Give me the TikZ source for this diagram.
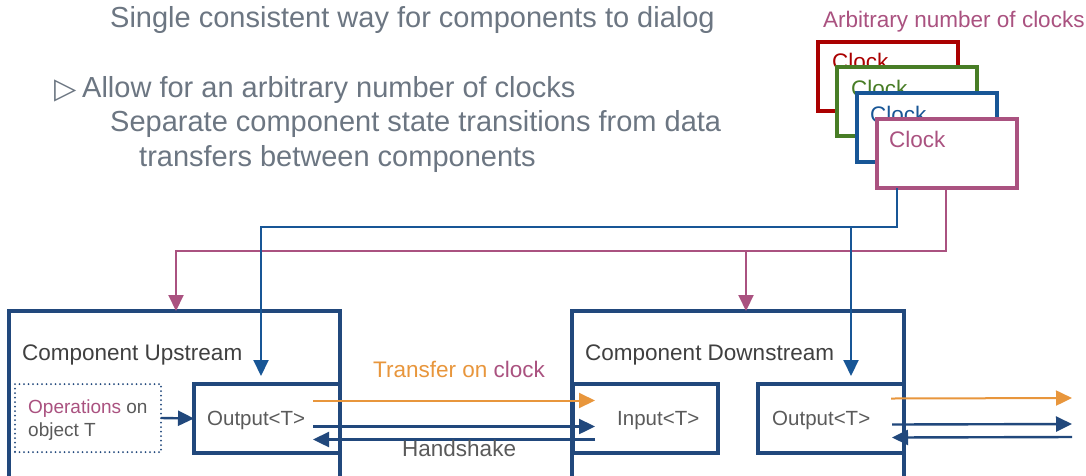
\documentclass[tikz,border=0pt]{standalone}
\usepackage{fontspec}
\setmainfont{Liberation Sans}
\newfontfamily\symbfont{DejaVu Sans}
\usetikzlibrary{arrows.meta,calc}

\definecolor{slate}{RGB}{108,118,130}
\definecolor{boxblue}{RGB}{33,72,124}
\definecolor{wireblue}{RGB}{24,86,150}
\definecolor{clkpink}{RGB}{170,82,128}
\definecolor{xferorange}{RGB}{232,150,60}
\definecolor{clkred}{RGB}{170,0,0}
\definecolor{clkgreen}{RGB}{72,125,38}
\definecolor{txtgray}{RGB}{64,64,64}
\definecolor{lblgray}{RGB}{90,90,90}

\tikzset{
  txt/.style={anchor=base west, inner sep=0pt},
  bigfont/.style={font=\fontsize{29}{34}\selectfont},
  midfont/.style={font=\fontsize{22.5}{27}\selectfont},
  smallfont/.style={font=\fontsize{20.5}{24}\selectfont},
  compbox/.style={draw=boxblue, line width=3.2pt, fill=white, anchor=north west, outer sep=0pt, inner sep=0pt},
  clkbox/.style={draw=#1, line width=3.5pt, fill=white, anchor=north west, outer sep=0pt, inner sep=0pt, minimum width=140pt, minimum height=69pt},
  arr/.style={-{Triangle[length=16pt,width=15pt]}},
  pkwire/.style={draw=clkpink, line width=2pt},
  blwire/.style={draw=wireblue, line width=2pt},
  hswire/.style={draw=boxblue, line width=2.4pt},
  xfwire/.style={draw=xferorange, line width=2pt}
}

\begin{document}
\begin{tikzpicture}[x=1pt, y=-1pt]
\useasboundingbox (0,0) rectangle (1086,475);
\fill[white] (0,0) rectangle (1086,475);
\clip (0,0) rectangle (1086,475);

% headline text
\node[txt, slate, bigfont] (title) at (110,27) {Single consistent way for components to dialog};
\node[txt, slate, font=\symbfont\fontsize{29}{34}\selectfont] (bullet) at (54,98) {▷};
\node[txt, slate, bigfont] (allow) at (82,97) {Allow for an arbitrary number of clocks};
\node[txt, slate, bigfont] (sep) at (110,131) {Separate component state transitions from data};
\node[txt, slate, bigfont] (xfers) at (139,166) {transfers between components};

% stack of clocks
\node[txt, clkpink, midfont] (clkcap) at (823,27) {Arbitrary number of clocks};
\node[clkbox=clkred] (clk1) at (818,42) {};
\node[txt, clkred, midfont] (clk1txt) at (832,69) {Clock};
\node[clkbox=clkgreen] (clk2) at (837,67) {};
\node[txt, clkgreen, midfont] (clk2txt) at (851,96) {Clock};
\node[clkbox=wireblue] (clk3) at (857,93) {};
\node[txt, wireblue, midfont] (clk3txt) at (870,122) {Clock};
\node[clkbox=clkpink] (clk4) at (877,119) {};
\node[txt, clkpink, midfont] (clk4txt) at (889,147) {Clock};

% components
\node[compbox, minimum width=331pt, minimum height=180pt] (up) at (9,311) {};
\node[txt, txtgray, midfont] (uplbl) at (22,360) {Component Upstream};
\node[compbox, minimum width=146pt, minimum height=69pt] (upout) at (194,384) {};
\node[txt, lblgray, smallfont] (upouttxt) at (207,425) {Output<T>};
\node[draw=boxblue, line width=2pt, line cap=round, dash pattern=on 0pt off 4.5pt, anchor=north west, outer sep=0pt, inner sep=0pt,
      minimum width=146pt, minimum height=68pt] (opbox) at (15,384) {};
\node[txt, lblgray, font=\fontsize{19}{23}\selectfont] (optxt) at (28,413) {\textcolor{clkpink}{Operations} on};
\node[txt, lblgray, font=\fontsize{19}{23}\selectfont] (optxt2) at (28,436) {object T};

\node[compbox, minimum width=332pt, minimum height=180pt] (down) at (572,311) {};
\node[txt, txtgray, midfont] (dnlbl) at (585,360) {Component Downstream};
\node[compbox, minimum width=145pt, minimum height=69pt] (inbox) at (573,384) {};
\node[txt, lblgray, smallfont] (intxt) at (617,425) {Input<T>};
\node[compbox, minimum width=146pt, minimum height=69pt] (dnout) at (758,384) {};
\node[txt, lblgray, smallfont] (dnouttxt) at (772,425) {Output<T>};

% clock wiring
\coordinate (blbus) at (897,227);
\coordinate (pkbus) at (946,251);
\coordinate (uptap) at ($(up.north west)+(167,0)$);
\coordinate (dntap) at ($(down.north west)+(174,0)$);
\coordinate (upouttap) at ($(upout.north west)+(67,0)$);
\coordinate (dnouttap) at ($(dnout.north west)+(93,0)$);
\draw[pkwire, arr] (clk4.south -| pkbus) -- (pkbus) -| (uptap);
\draw[pkwire, arr] (dntap |- pkbus) -- (dntap);
\draw[blwire, arr, shorten >=8pt] (clk4.south -| blbus) -- (blbus) -| (upouttap);
\draw[blwire, arr, shorten >=8pt] (dnouttap |- blbus) -- (dnouttap);

% transfer between components
\draw[hswire, arr] (opbox.east) -- (upout.west);
\coordinate (xfa) at ($(upout.east)+(-27,-18)$);
\coordinate (xfb) at ($(inbox.west)+(22,-18)$);
\coordinate (hsa) at ($(upout.east)+(-27,8)$);
\coordinate (hsb) at ($(inbox.west)+(22,8)$);
\coordinate (hsc) at ($(inbox.west)+(22,21)$);
\coordinate (hsd) at ($(upout.east)+(-27,21)$);
\draw[xfwire, arr] (xfa) -- (xfb);
\draw[hswire, arr] (hsa) -- (hsb);
\draw[hswire, arr] (hsc) -- (hsd);
\node[txt, xferorange, midfont] (xflbl) at (373,377) {Transfer on \textcolor{clkpink}{clock}};
\node[txt, lblgray, midfont] (hslbl) at (402,456) {Handshake};

% onward from downstream
\coordinate (dxa) at ($(dnout.east)+(-13,-20)$);
\coordinate (dxb) at (1072,398);
\coordinate (dha) at ($(dnout.east)+(-12,6)$);
\coordinate (dhb) at (1072,424);
\coordinate (dhc) at (1072,437);
\coordinate (dhd) at ($(dnout.east)+(-12,19)$);
\draw[xfwire, arr] (dxa) -- (dxb);
\draw[hswire, arr] (dha) -- (dhb);
\draw[hswire, arr] (dhc) -- (dhd);
\end{tikzpicture}
\end{document}
